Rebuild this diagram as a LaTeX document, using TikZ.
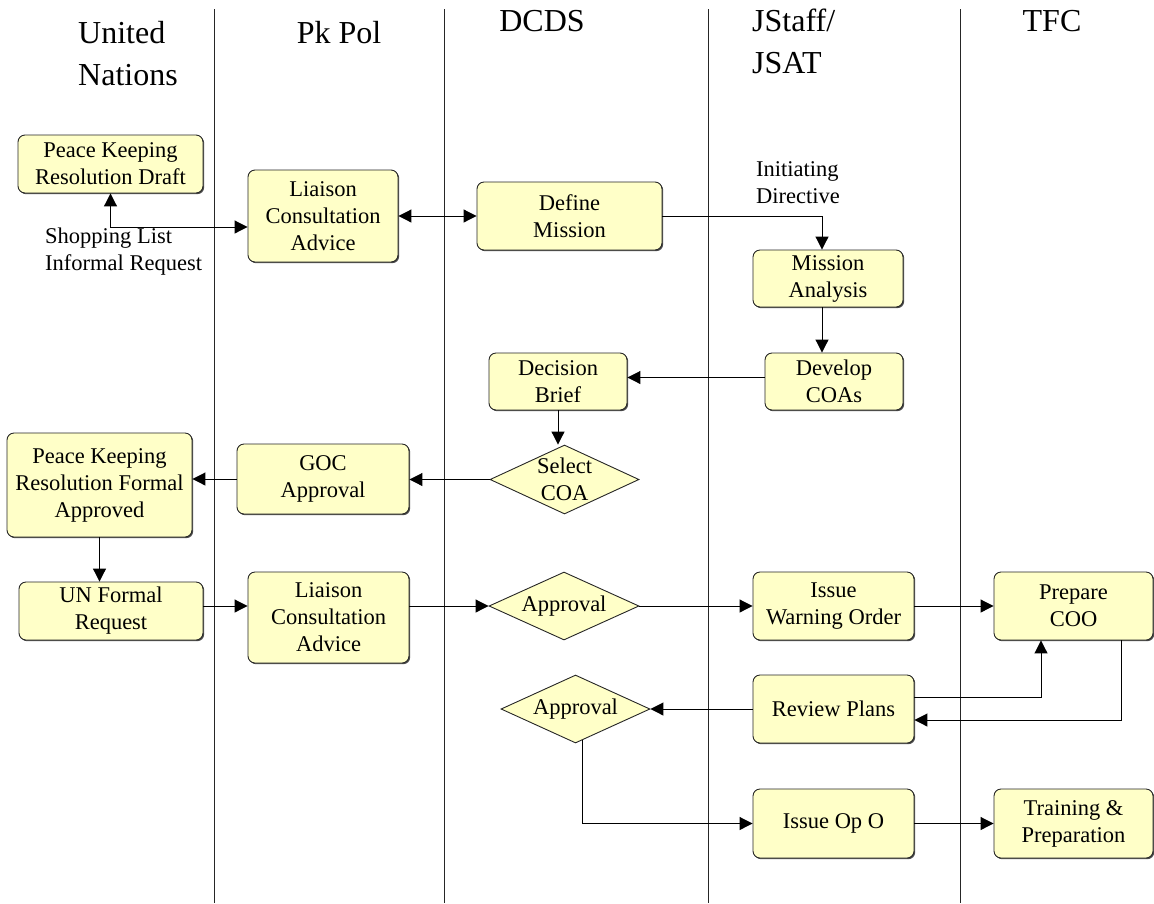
\documentclass[tikz,border=0pt]{standalone}
\usepackage{fontspec}
\setmainfont{Liberation Serif}
\usetikzlibrary{arrows.meta,shapes.geometric,shadows}
\definecolor{boxfill}{RGB}{255,255,200}
\newcommand\nodefnt{\fontsize{22.5}{27}\selectfont}
\newcommand\headfnt{\fontsize{32}{42}\selectfont}
\begin{document}
\begin{tikzpicture}[x=1pt,y=-1pt,
  box/.style={draw=black!85, line width=0.9pt, fill=boxfill, rounded corners=7pt,
    inner sep=0pt, align=center, font=\nodefnt,
    drop shadow={shadow xshift=1.2pt, shadow yshift=-1.2pt, fill=black!70, opacity=1}},
  dia/.style={draw=black!85, line width=0.9pt, fill=boxfill, diamond, inner sep=0pt},
  dtext/.style={font=\nodefnt, align=center, inner sep=0pt},
  tip/.tip={Triangle[length=13pt,width=13pt]},
  arr/.style={line width=1pt, -tip},
  darr/.style={line width=1pt, tip-tip},
  lane/.style={line width=1pt, black!85},
  head/.style={font=\headfnt, inner sep=0pt, align=left},
  lbl/.style={font=\nodefnt, inner sep=0pt, align=left}]
\useasboundingbox (0,0) rectangle (1154,903);

% lanes
\coordinate (l1t) at (214,9);   \coordinate (l1b) at (214,903);
\coordinate (l2t) at (444,9);   \coordinate (l2b) at (444,903);
\coordinate (l3t) at (708,9);   \coordinate (l3b) at (708,903);
\coordinate (l4t) at (960,9);   \coordinate (l4b) at (960,903);
\draw[lane] (l1t) -- (l1b);
\draw[lane] (l2t) -- (l2b);
\draw[lane] (l3t) -- (l3b);
\draw[lane] (l4t) -- (l4b);

% headers (base anchor = baseline of last line)
\node[head, anchor=base west] (hun) at (78,85) {United\\Nations};
\node[head, anchor=base] (hpk) at (339,43) {Pk Pol};
\node[head, anchor=base] (hdc) at (542,31) {DCDS};
\node[head, anchor=base west] (hjs) at (752,73) {JStaff/\\JSAT};
\node[head, anchor=base] (htf) at (1052,31) {TFC};

% boxes
\node[box, minimum width=185pt, minimum height=58pt] (draft) at (110.5,164) {Peace Keeping\\Resolution Draft};
\node[box, minimum width=150pt, minimum height=92pt] (liai1) at (323,216) {Liaison\\Consultation\\Advice};
\node[box, minimum width=185pt, minimum height=68pt] (define) at (569.5,216) {Define\\Mission};
\node[box, minimum width=150pt, minimum height=57pt] (manal) at (828,278.5) {Mission\\Analysis};
\node[box, minimum width=138pt, minimum height=57pt] (dcoas) at (834,381.5) {Develop\\COAs};
\node[box, minimum width=138pt, minimum height=57pt] (dbrief) at (558,381.5) {Decision\\Brief};
\node[dia, minimum width=149pt, minimum height=69pt,
  label={[dtext]center:Select\\COA}] (selcoa) at (564.5,479.5) {};
\node[box, minimum width=172pt, minimum height=70pt] (goc) at (323,479) {GOC\\Approval};
\node[box, minimum width=185pt, minimum height=104pt] (pkform) at (99.5,485) {Peace Keeping\\Resolution Formal\\Approved};
\node[box, minimum width=184pt, minimum height=58pt] (unreq) at (111,611) {UN Formal\\Request};
\node[box, minimum width=161pt, minimum height=91pt] (liai2) at (328.5,617.5) {Liaison\\Consultation\\Advice};
\node[dia, minimum width=150pt, minimum height=68pt,
  label={[dtext]center:Approval}] (appr1) at (564,606) {};
\node[box, minimum width=161pt, minimum height=68pt] (iwo) at (833.5,606) {Issue\\Warning Order};
\node[box, minimum width=159pt, minimum height=68pt] (prep) at (1073.5,606) {Prepare\\COO};
\node[box, minimum width=161pt, minimum height=68pt] (review) at (833.5,709) {Review Plans};
\node[dia, minimum width=149pt, minimum height=68pt,
  label={[dtext]center:Approval}] (appr2) at (575.5,709) {};
\node[box, minimum width=161pt, minimum height=69pt] (issop) at (833.5,823.5) {Issue Op O};
\node[box, minimum width=159pt, minimum height=69pt] (train) at (1073.5,823.5) {Training \&\\Preparation};

% free labels
\node[lbl, anchor=west] (shop) at (45,252) {Shopping List\\Informal Request};
\node[lbl, anchor=west] (init) at (756,183) {Initiating\\Directive};

% connectors
\draw[darr] (draft.south) |- ([yshift=-11pt]liai1.west);
\draw[darr] (liai1.east) -- (define.west);
\draw[arr] (define.east) -| ([xshift=-6pt]manal.north);
\draw[arr] ([xshift=-6pt]manal.south) -- ([xshift=-6pt]manal.south |- dcoas.north);
\draw[arr] ([yshift=4pt]dcoas.west) -- ([yshift=4pt]dbrief.east);
\draw[arr] (dbrief.south) -- (dbrief.south |- selcoa.north);
\draw[arr] (selcoa.west) -- (selcoa.west -| goc.east);
\draw[arr] (goc.west) -- (goc.west -| pkform.east);
\draw[arr] (pkform.south) -- (pkform.south |- unreq.north);
\draw[arr] ([yshift=5pt]unreq.east) -- ([yshift=5pt]unreq.east -| liai2.west);
\draw[arr] (liai2.east |- appr1.west) -- (appr1.west);
\draw[arr] (appr1.east) -- (iwo.west);
\draw[arr] (iwo.east) -- (prep.west);
\draw[arr] ([yshift=12pt]review.east) -| ([xshift=-32.5pt]prep.south);
\draw[arr] ([xshift=47.5pt]prep.south) |- ([yshift=-11pt]review.east);
\draw[arr] (review.west) -- (appr2.east);
\draw[arr] ([xshift=6.5pt,yshift=3pt]appr2.south) |- (issop.west);
\draw[arr] (issop.east) -- (train.west);
\end{tikzpicture}
\end{document}
